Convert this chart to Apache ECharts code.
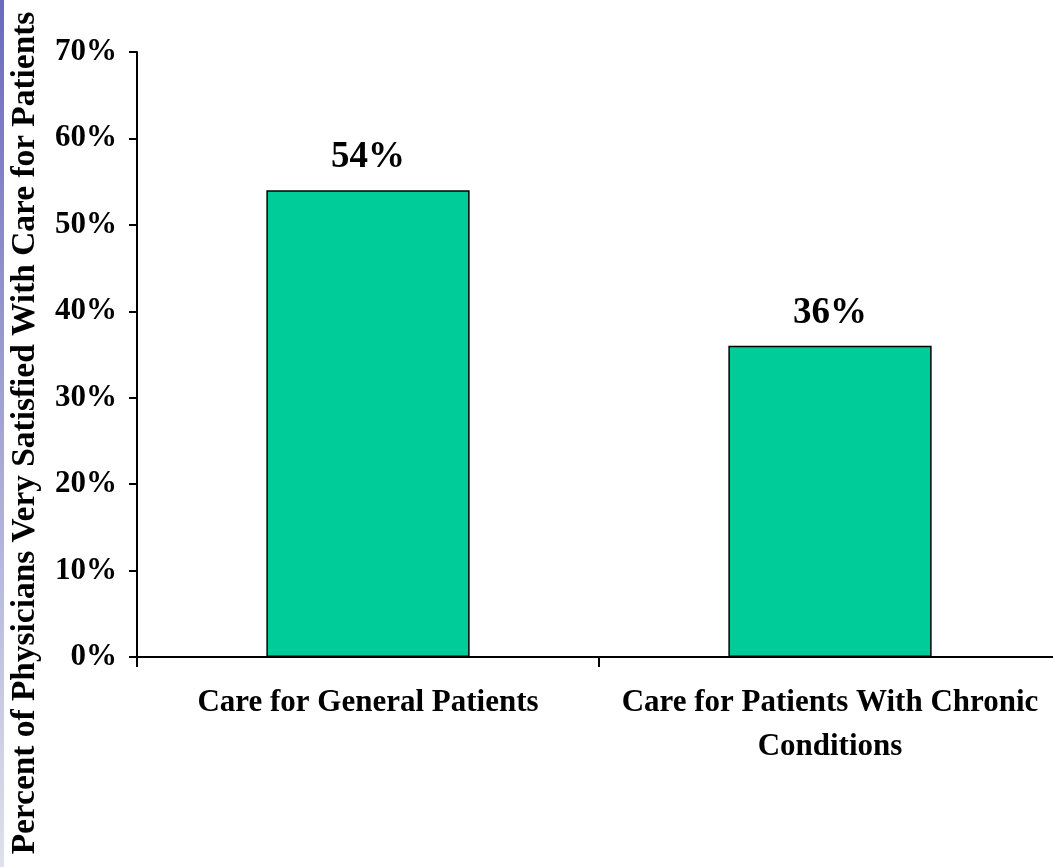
<!DOCTYPE html>
<html>
<head>
<meta charset="utf-8">
<script src="https://cdn.jsdelivr.net/npm/echarts@6/dist/echarts.min.js"></script>
<style>html,body{margin:0;padding:0;background:#fff;overflow:hidden;}#c{width:1053px;height:867px;}</style>
</head>
<body>
<div id="c"></div>
<script>
var categories = ['Care for General Patients', 'Care for Patients With Chronic\nConditions'];
var values = [54, 36];
var yTicks = [0, 10, 20, 30, 40, 50, 60, 70];
var yTitle = 'Percent of Physicians Very Satisfied With Care for Patients';

var font = '"Liberation Serif", "Times New Roman", serif';
var chart = echarts.init(document.getElementById('c'));
chart.setOption({
  animation: false,
  backgroundColor: '#ffffff',
  grid: { left: 137, top: 52, bottom: 210, width: 924, containLabel: false, outerBoundsMode: 'none' },
  xAxis: {
    type: 'category',
    data: categories,
    axisLine: { lineStyle: { color: '#000', width: 2 } },
    axisTick: { show: true, length: 10, lineStyle: { color: '#000', width: 2 } },
    axisLabel: { interval: 0, hideOverlap: false, color: '#000', fontFamily: font, fontWeight: 'bold', fontSize: 31, lineHeight: 44, margin: 24 },
    splitLine: { show: false }
  },
  yAxis: {
    type: 'value',
    min: yTicks[0],
    max: yTicks[yTicks.length - 1],
    interval: 10,
    axisLine: { show: true, lineStyle: { color: '#000', width: 2 } },
    axisTick: { show: true, length: 8, lineStyle: { color: '#000', width: 2 } },
    axisLabel: { color: '#000', fontFamily: font, fontWeight: 'bold', fontSize: 31, margin: 20, formatter: '{value}%' },
    splitLine: { show: false }
  },
  series: [{
    type: 'bar',
    data: values,
    barWidth: '44%',
    itemStyle: { color: '#00CC99', borderColor: '#000', borderWidth: 1.5 },
    label: { show: true, position: 'top', distance: 14, color: '#000', fontFamily: font, fontWeight: 'bold', fontSize: 37, formatter: '{c}%' }
  }],
  graphic: [
    {
      type: 'rect', left: 0, top: 0,
      shape: { width: 4, height: 867 },
      style: { fill: new echarts.graphic.LinearGradient(0, 0, 0, 1, [
        { offset: 0, color: '#6a6abf' }, { offset: 1, color: '#dfe1ec' }
      ]) }
    },
    {
      type: 'text',
      x: 25, y: 433,
      rotation: Math.PI / 2,
      style: { text: yTitle, fill: '#000', font: 'bold 33.4px ' + font, textAlign: 'center', textVerticalAlign: 'middle' }
    }
  ]
});
</script>
</body>
</html>
